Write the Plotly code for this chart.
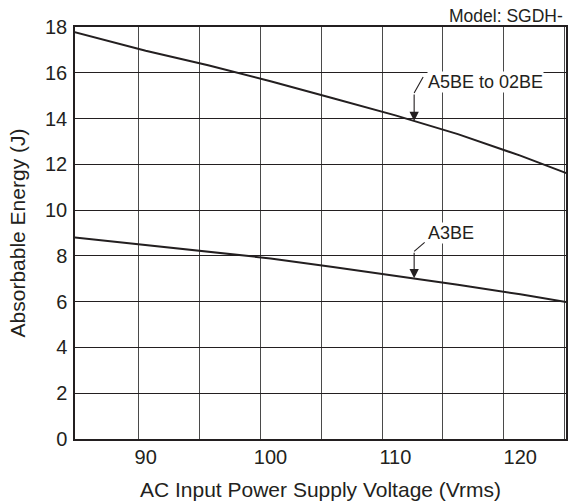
import numpy as np
import plotly.graph_objects as go

# ---- data ----
voltage = [84, 90, 95, 100, 105, 110, 115, 120, 124]
a5be_to_02be = [17.82, 16.96, 16.33, 15.63, 14.89, 14.14, 13.32, 12.38, 11.55]
a3be = [8.82, 8.47, 8.16, 7.89, 7.51, 7.14, 6.74, 6.32, 5.95]
series_names = ["A5BE to 02BE", "A3BE"]
x_tick_labels = [90, 100, 110, 120]
y_tick_values = list(range(0, 19, 2))
grid_x_values = list(range(90, 126, 5))
label_voltage = 111.5  # where the label leaders point

INK = "#231f20"
FONT = "Liberation Sans, Arial, sans-serif"

fig = go.Figure()
# empty trace so that the gridline axis (x) is drawn
fig.add_trace(go.Scatter(x=[], y=[], xaxis="x", yaxis="y",
                         showlegend=False, hoverinfo="skip"))
for name, vals in zip(series_names, [a5be_to_02be, a3be]):
    fig.add_trace(go.Scatter(
        x=voltage, y=vals, name=name, mode="lines",
        xaxis="x2", yaxis="y",
        line=dict(color=INK, width=2), showlegend=False,
    ))

annotations = [
    dict(xref="paper", yref="paper", x=0.7586, y=1.026, xanchor="left",
         yanchor="middle", text="Model: SGDH-", showarrow=False,
         font=dict(size=17.5, color=INK, family=FONT)),
]
shapes = []
leader = {  # arrow length, diagonal dx, diagonal dy, text xshift, text yshift
    "A5BE to 02BE": (28, 9, 16, 13, 39),
    "A3BE": (27, 10.5, 9, 13, 45),
}
for name, vals in zip(series_names, [a5be_to_02be, a3be]):
    tip_y = float(np.interp(label_voltage, voltage, vals))
    alen, ddx, ddy, tx, ty = leader[name]
    annotations.append(dict(
        xref="x2", yref="y", x=label_voltage, y=tip_y, text="",
        showarrow=True, arrowhead=2, arrowsize=1.7, arrowwidth=1.1,
        arrowcolor=INK, ax=0, ay=-alen,
    ))
    shapes.append(dict(
        type="line", xref="x2", yref="y",
        xsizemode="pixel", ysizemode="pixel",
        xanchor=label_voltage, yanchor=tip_y,
        x0=0, x1=ddx, y0=alen, y1=alen + ddy,
        line=dict(color=INK, width=1.1),
    ))
    annotations.append(dict(
        xref="x2", yref="y", x=label_voltage, y=tip_y, text=name,
        showarrow=False, xanchor="left", yanchor="middle",
        xshift=tx, yshift=ty, bgcolor="white", borderpad=0,
        font=dict(size=18, color=INK, family=FONT),
    ))

fig.update_layout(
    width=568, height=504,
    margin=dict(l=75, r=0, t=27, b=65),
    paper_bgcolor="white", plot_bgcolor="white",
    font=dict(family=FONT, color=INK),
    xaxis=dict(
        range=[84.76, 125.11], tickvals=grid_x_values, showticklabels=False,
        showgrid=True, gridcolor="#4a4a4a", gridwidth=1,
        showline=True, linecolor=INK, linewidth=1.5, mirror=True,
        zeroline=False, ticks="",
    ),
    xaxis2=dict(
        overlaying="x", anchor="y", side="bottom",
        range=[84.34, 123.66], tickvals=x_tick_labels,
        showgrid=False, showline=False, zeroline=False, ticks="",
        tickfont=dict(size=20, color=INK), ticklabelstandoff=4,
        title=dict(text="AC Input Power Supply Voltage (Vrms)",
                   font=dict(size=21, color=INK), standoff=15),
    ),
    yaxis=dict(
        range=[0, 18], tickvals=y_tick_values,
        showgrid=True, gridcolor=INK, gridwidth=1,
        showline=True, linecolor=INK, linewidth=1.5, mirror=True,
        zeroline=False, ticks="", ticklabelstandoff=2,
        tickfont=dict(size=20, color=INK),
        title=dict(text="Absorbable Energy (J)",
                   font=dict(size=21, color=INK), standoff=14),
    ),
    annotations=annotations,
    shapes=shapes,
)

# remove the default page margin so the 568x504 figure fills the window exactly
fig.write_html(
    "out.html",
    config={"displayModeBar": False},
    post_script="document.body.style.margin='0px';"
                "document.body.style.overflow='hidden';",
)
